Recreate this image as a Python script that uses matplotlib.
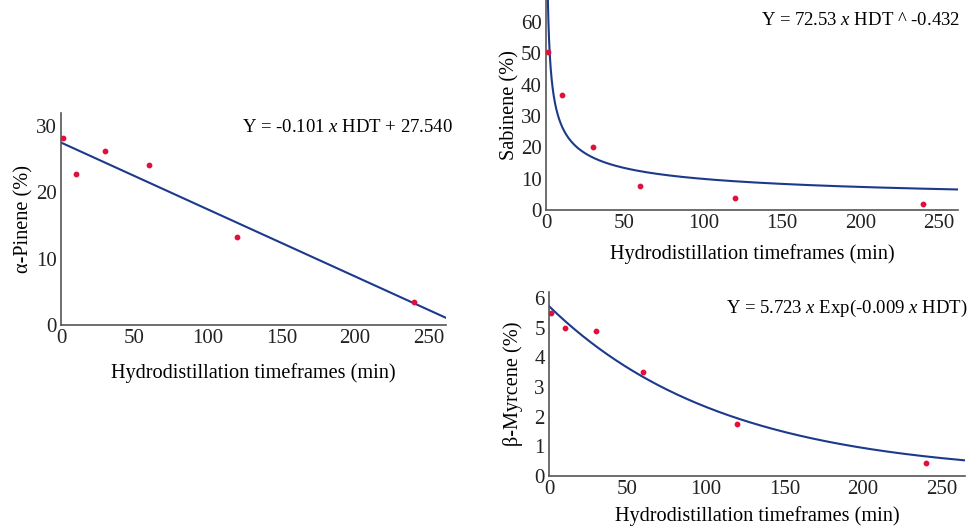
import numpy as np
import matplotlib.pyplot as plt

plt.rcParams['font.family'] = 'Liberation Serif'
plt.rcParams['mathtext.fontset'] = 'custom'
plt.rcParams['mathtext.rm'] = 'Liberation Serif'
plt.rcParams['mathtext.it'] = 'Liberation Serif:italic'

# hydrodistillation times (min)
hdt = [1.5, 10, 30, 60, 120, 240]

# measured values (%)
pinene = [28.3, 22.8, 26.2, 24.2, 13.3, 3.5]
sabinene = [50.5, 36.8, 20.0, 7.5, 3.8, 1.8]
myrcene = [5.5, 5.0, 4.9, 3.5, 1.75, 0.45]

# fitted model coefficients, as printed on the chart
lin_a, lin_b = -0.101, 27.540
pow_a, pow_b = 72.53, -0.432
exp_a, exp_b = 5.723, -0.009

dot_col = '#e0103a'
line_col = '#1c3a8c'
spine_col = '#555555'
tick_fs = 15
lab_fs = 14.6
eq_fs = 13.5

fig = plt.figure(figsize=(9.71, 5.28), dpi=100)

def style(ax, xmax, ylim, yticks, xpad=8):
    ax.set_xlim(0, xmax)
    ax.set_ylim(*ylim)
    ax.set_xticks([0, 50, 100, 150, 200, 250])
    ax.set_yticks(yticks)
    for s in ['top', 'right']:
        ax.spines[s].set_visible(False)
    for s in ['left', 'bottom']:
        ax.spines[s].set_color(spine_col)
        ax.spines[s].set_linewidth(1.2)
    ax.tick_params(length=0, labelsize=tick_fs, pad=3, colors='#222222')
    ax.set_xlabel('Hydrodistillation timeframes (min)', fontsize=lab_fs, labelpad=xpad)


# a-Pinene (linear)
ax1 = fig.add_axes([0.0628, 0.3845, 0.3965, 0.4015])
xs = np.linspace(0, 262, 200)
ax1.plot(xs, lin_a * xs + lin_b, color=line_col, lw=1.5)
ax1.scatter(hdt, pinene, s=10, color=dot_col, zorder=3)
style(ax1, 262, (0, 32), [0, 10, 20, 30], xpad=11)
ax1.set_ylabel('α-Pinene (%)', fontsize=lab_fs, labelpad=2)
ax1.text(1.018, 0.93, 'Y = -0.101 $\\mathit{x}$ HDT + 27.540', transform=ax1.transAxes,
         ha='right', va='center', fontsize=eq_fs)

# Sabinene (power)
ax2 = fig.add_axes([0.5623, 0.6023, 0.4243, 0.3977])
xs = np.linspace(0.5, 262, 2000)
ax2.plot(xs, pow_a * xs ** pow_b, color=line_col, lw=1.5)
ax2.scatter(hdt, sabinene, s=10, color=dot_col, zorder=3)
style(ax2, 262, (0, 67), [0, 10, 20, 30, 40, 50, 60], xpad=8)
ax2.set_ylabel('Sabinene (%)', fontsize=lab_fs, labelpad=1)
ax2.text(1.005, 0.9, 'Y = 72.53 $\\mathit{x}$ HDT ^ -0.432', transform=ax2.transAxes,
         ha='right', va='center', fontsize=eq_fs)

# b-Myrcene (exponential)
ax3 = fig.add_axes([0.5654, 0.0985, 0.4284, 0.3485])
xs = np.linspace(0, 265, 200)
ax3.plot(xs, exp_a * np.exp(exp_b * xs), color=line_col, lw=1.5)
ax3.scatter(hdt, myrcene, s=10, color=dot_col, zorder=3)
style(ax3, 265, (0, 6.2), [0, 1, 2, 3, 4, 5, 6], xpad=5)
ax3.set_ylabel('β-Myrcene (%)', fontsize=lab_fs, labelpad=8)
ax3.text(1.005, 0.91, 'Y = 5.723 $\\mathit{x}$ Exp(-0.009 $\\mathit{x}$ HDT)', transform=ax3.transAxes,
         ha='right', va='center', fontsize=eq_fs)

fig.savefig('out.png', dpi=100)
